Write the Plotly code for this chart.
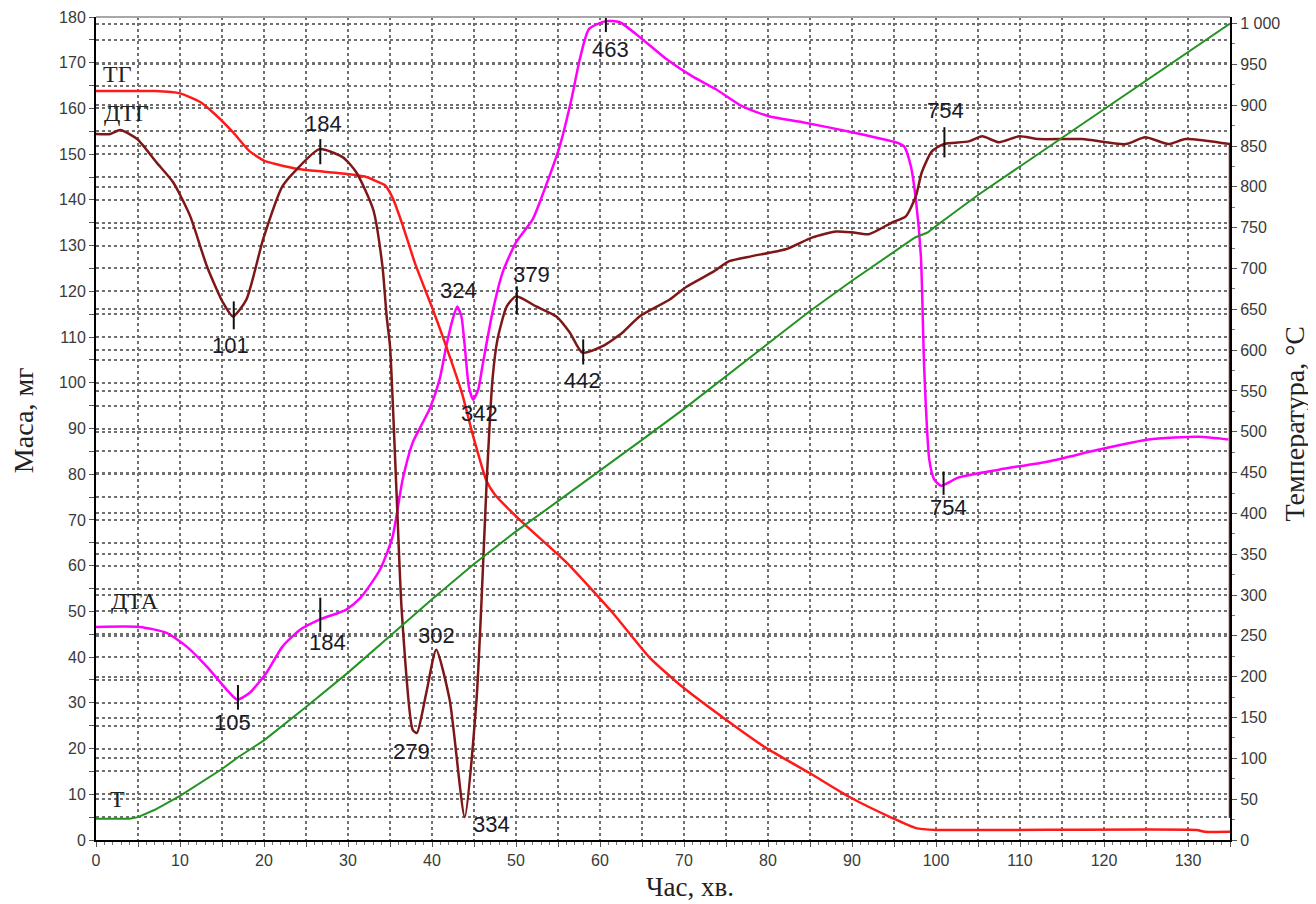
import plotly.graph_objects as go

# ---------------- data ----------------
# TG (mass, mg) vs time (min)
tg_time = [0, 7, 10, 12.4, 14, 16.3, 18.3, 20, 21.5, 24.3, 27, 30.2, 32, 33, 34.4, 35.3,
           36.5, 38, 40, 41.3, 43.6, 44.8, 46.5, 47.5, 50.8, 56, 61.5, 65.9, 69.8, 75,
           79.8, 84.9, 89.7, 94.8, 97.6, 100, 131, 132, 135]
tg_mass = [163.8, 163.8, 163.3, 161.4, 159, 154.8, 150.6, 148.6, 147.8, 146.7, 146.2, 145.6,
           145.1, 144.4, 143.2, 140.5, 134.5, 126, 116.5, 110, 97.5, 89, 78.5, 75.5, 69.4,
           60.7, 49.7, 39.9, 33.5, 26.3, 20.1, 14.7, 9.4, 4.8, 2.6, 2.2, 2.2, 1.8, 1.8]

# DTG (plotted on the mass scale)
dtg_time = [0, 1.7, 2.9, 4.9, 7.2, 9.2, 11.2, 13.2, 15.1, 16.3, 17.9, 19.9, 22.2, 23.9, 26.6,
            29.4, 31, 33, 34.1, 34.6, 35.0, 35.8, 36.4, 37.7, 38.2, 39.3, 40.5, 42.1, 43.9,
            45.3, 45.9, 46.5, 47.2, 47.8, 48.9, 50, 52.4, 54.8, 56.4, 57.9, 60.3, 62.7, 64.7,
            68.3, 70.3, 73.4, 75.4, 78.1, 82.1, 85.3, 88.1, 90, 92, 94.8, 96.4, 97.6, 98.3,
            99.5, 100.9, 103.9, 105.5, 107.5, 109.9, 112.2, 117.4, 122.6, 124.9, 127.7,
            129.7, 135, 135]
dtg_val = [154.4, 154.4, 155.3, 153.3, 148.2, 143.8, 136.5, 125.5, 117.6, 114.5, 118.2, 131.4,
           143, 146.7, 151.1, 149.3, 146, 137.9, 125.5, 114.5, 108, 75, 50, 24.1, 23.4, 32,
           41.6, 30.7, 5.0, 30.7, 52.5, 78, 100.7, 109.5, 116.7, 118.9, 116.7, 114.5, 111,
           106.6, 108, 111, 114.5, 118.2, 121, 124.2, 126.6, 127.7, 129.2, 131.8, 133.1,
           132.9, 132.5, 135.1, 136.4, 140.8, 146, 150.6, 152.2, 152.8, 153.9, 152.6, 153.9,
           153.3, 153.3, 152.2, 153.7, 152.2, 153.3, 152.2, 4.8]

# DTA (plotted on the mass scale)
dta_time = [0, 5.2, 8.4, 10.8, 13.2, 15.6, 16.8, 18.3, 20.3, 22.2, 24.3, 26.6, 29.8, 31.5,
            33.8, 35.3, 36.5, 37.7, 38.9, 39.7, 40.9, 41.7, 42.4, 43.0, 43.5, 43.9, 44.4,
            44.9, 45.5, 46, 47.2, 48.4, 50, 52, 53.4, 55.2, 56.6, 57.6, 58.7, 60.7, 62.3, 65,
            67.9, 71, 73.8, 76.9, 80.1, 84.1, 90, 95.2, 96.2, 97, 97.6, 98.2, 98.6, 99.2,
            99.8, 100.6, 102.7, 107.5, 113.4, 119.4, 125.3, 131.3, 134.8]
dta_val = [46.6, 46.6, 45.3, 42.3, 37.9, 32.8, 30.7, 32.2, 36.6, 42.3, 46, 48.2, 50.4, 53,
           59.1, 66.3, 78.8, 86.9, 91.3, 94.2, 100.7, 108, 113.5, 116.7, 114.5, 108, 99,
           96.3, 98.5, 103.6, 115.4, 124.1, 130.7, 135.8, 142.3, 151.7, 162, 170.8, 177.4,
           179.1, 178.9, 175.2, 170.8, 167, 164.2, 160.5, 158.3, 157, 154.8, 152.6, 151.7,
           147.4, 140.1, 127.7, 102.9, 83.2, 78.8, 77.5, 79.3, 81, 82.8, 85.4, 87.6, 88.2,
           87.6]

# Temperature (°C) vs time
t_time = [0, 4, 5, 7, 10, 15, 17, 20, 25, 30, 35, 40, 45, 50, 55, 60, 65, 70, 75, 80, 85,
          90, 95, 97.5, 99, 100, 105, 110, 115, 120, 125, 130, 135]
t_temp = [26, 26, 28, 37, 54, 87, 102, 122, 163, 205, 250, 295, 338, 378, 415, 452, 490, 528,
          568, 608, 648, 685, 720, 738, 744, 752, 790, 825, 860, 895, 930, 965, 1000]

# peak marks: (time, low, high) on mass scale
mark_time = [16.4, 26.7, 16.9, 26.7, 50.1, 58.0, 60.7, 101.0, 100.9]
mark_low = [111.7, 147.8, 28.5, 45.5, 115.0, 104.0, 176.7, 149.3, 75.5]
mark_high = [117.8, 153.3, 33.9, 53.0, 121.1, 109.5, 180.0, 155.9, 80.6]

# peak temperature labels
peak_text = ["101", "184", "105", "184", "279", "302", "334", "324", "342", "379", "442",
             "463", "754", "754"]
peak_x = [16.05, 27.1, 16.3, 27.5, 37.5, 40.5, 47.1, 43.2, 45.7, 51.8, 57.9, 61.2, 101.1, 101.5]
peak_y = [108.2, 156.6, 25.8, 43.1, 19.3, 44.7, 3.5, 120.2, 93.3, 123.7, 100.5, 172.8, 159.6, 72.7]

# curve names
curve_text = ["ТГ", "ДТГ", "ДТА", "Т"]
curve_x = [2.6, 3.6, 4.6, 2.5]
curve_y = [167.5, 159.0, 52.3, 9.0]

x_ticks = list(range(0, 136, 5))
y_ticks = list(range(0, 181, 5))
y2_ticks = list(range(0, 1001, 50))

# ---------------- figure ----------------
TG_C = "#FF1A1A"
DTG_C = "#7E1717"
DTA_C = "#FF00FF"
T_C = "#239323"
GRID = "#707070"
SERIF = "Liberation Serif, Times New Roman, serif"

fig = go.Figure()

fig.add_trace(go.Scatter(x=t_time, y=t_temp, yaxis="y2", mode="lines",
                         line=dict(color=T_C, width=2), hoverinfo="skip"))
fig.add_trace(go.Scatter(x=dta_time, y=dta_val, mode="lines",
                         line=dict(color=DTA_C, width=2.5, shape="spline", smoothing=0.6),
                         hoverinfo="skip"))
fig.add_trace(go.Scatter(x=tg_time, y=tg_mass, mode="lines",
                         line=dict(color=TG_C, width=2.5, shape="spline", smoothing=0.5),
                         hoverinfo="skip"))
fig.add_trace(go.Scatter(x=dtg_time[:-1], y=dtg_val[:-1], mode="lines",
                         line=dict(color=DTG_C, width=2.5, shape="spline", smoothing=0.6),
                         hoverinfo="skip"))
fig.add_trace(go.Scatter(x=dtg_time[-2:], y=dtg_val[-2:], mode="lines",
                         line=dict(color=DTG_C, width=2.5), hoverinfo="skip", cliponaxis=False))

for xm, lo, hi in zip(mark_time, mark_low, mark_high):
    fig.add_shape(type="line", xref="x", yref="y", x0=xm, x1=xm, y0=lo, y1=hi,
                  line=dict(color="#111111", width=2))

for t, xx, yy in zip(peak_text, peak_x, peak_y):
    fig.add_annotation(x=xx, y=yy, xref="x", yref="y", text=t, showarrow=False,
                       xanchor="center", yanchor="middle",
                       font=dict(family="Liberation Sans, Arial", size=22, color="#1a1a28"))

for t, xx, yy in zip(curve_text, curve_x, curve_y):
    fig.add_annotation(x=xx, y=yy, xref="x", yref="y", text=t, showarrow=False,
                       xanchor="center", yanchor="middle",
                       font=dict(family=SERIF, size=24, color="#222222"))

# axis titles
fig.add_annotation(x=-0.0645, y=0.51, xref="paper", yref="paper", text="Маса, мг",
                   showarrow=False, textangle=-90, xanchor="center", yanchor="middle",
                   font=dict(family=SERIF, size=28, color="#222222"))
fig.add_annotation(x=1.0565, y=0.505, xref="paper", yref="paper", text="Температура, °С",
                   showarrow=False, textangle=-90, xanchor="center", yanchor="middle",
                   font=dict(family=SERIF, size=28, color="#222222"))
fig.add_annotation(x=0.5238, y=-0.057, xref="paper", yref="paper", text="Час, хв.",
                   showarrow=False, xanchor="center", yanchor="middle",
                   font=dict(family=SERIF, size=27, color="#222222"))

# top border
fig.add_shape(type="line", xref="paper", yref="paper", x0=0, x1=1, y0=1, y1=1,
              line=dict(color="#A8A8A8", width=2))

tickfont = dict(family="Liberation Sans, Arial", size=16, color="#3a3a3a")

fig.update_layout(
    width=1308, height=896,
    margin=dict(l=88, r=86, t=9, b=64, autoexpand=False),
    paper_bgcolor="white", plot_bgcolor="white",
    showlegend=False,
    xaxis=dict(range=[0, 135], tickvals=x_ticks,
               ticktext=[str(v) if v % 10 == 0 else "" for v in x_ticks],
               showgrid=True, gridcolor=GRID, gridwidth=2, griddash="dot",
               showline=True, linecolor="black", linewidth=2,
               ticks="outside", ticklen=5, tickcolor="#555", tickfont=tickfont,
               zeroline=False, automargin=False,
               minor=dict(dtick=1, ticks="outside", ticklen=3, tickcolor="#777", showgrid=False)),
    yaxis=dict(range=[0, 180], tickvals=y_ticks,
               ticktext=[str(v) if v % 10 == 0 else "" for v in y_ticks],
               showgrid=True, gridcolor=GRID, gridwidth=2, griddash="dot",
               showline=True, linecolor="black", linewidth=2,
               ticks="outside", ticklen=5, tickcolor="#555", tickfont=tickfont,
               zeroline=False, automargin=False),
    yaxis2=dict(range=[0, 1008], overlaying="y", side="right", tickvals=y2_ticks,
                ticktext=["1 000" if v == 1000 else str(v) for v in y2_ticks],
                showgrid=True, gridcolor=GRID, gridwidth=2, griddash="dot",
                showline=True, linecolor="black", linewidth=2,
                ticks="outside", ticklen=5, tickcolor="#555", tickfont=tickfont,
                zeroline=False, automargin=False,
                minor=dict(dtick=25, ticks="outside", ticklen=3, tickcolor="#777", showgrid=False)),
)

fig.write_html("out.html")
